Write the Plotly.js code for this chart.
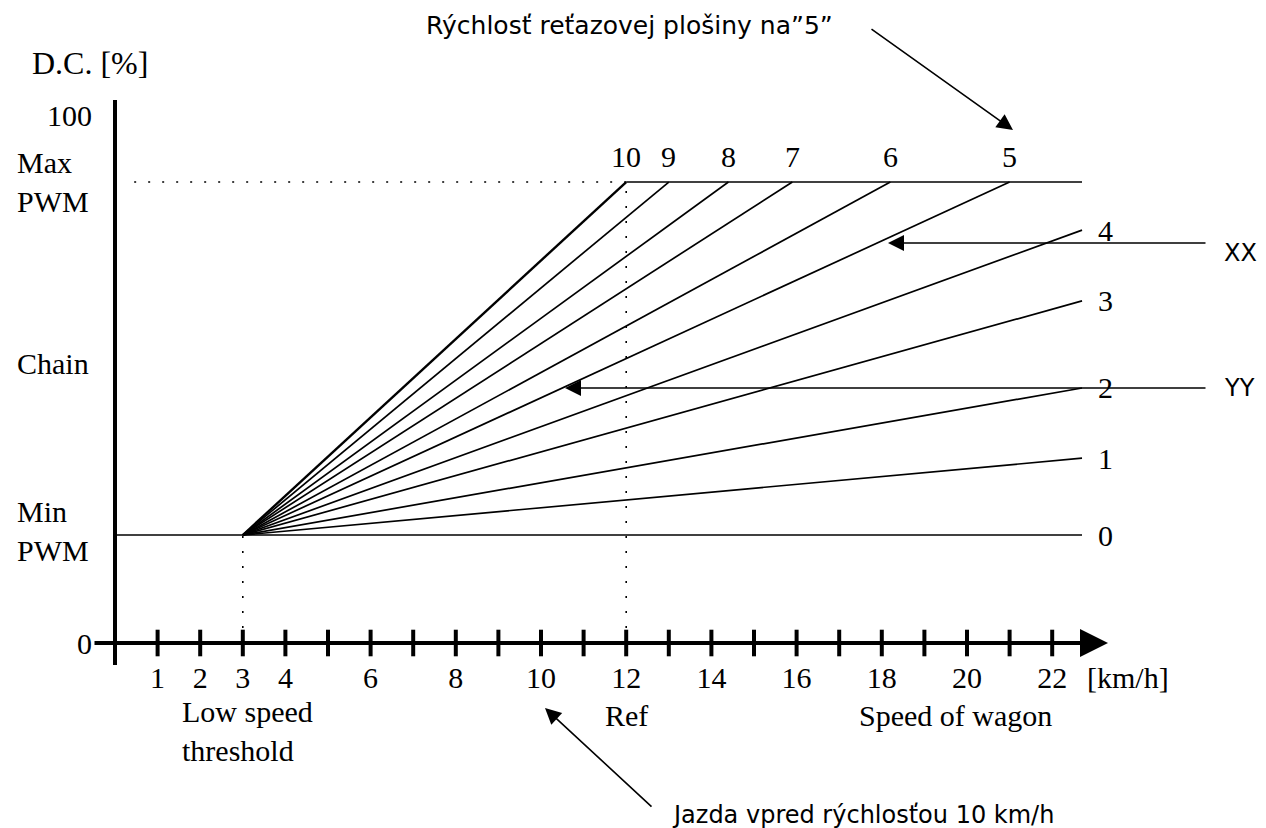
<!DOCTYPE html>
<html><head><meta charset="utf-8">
<script src="https://cdn.plot.ly/plotly-3.0.1.min.js"></script>
<style>html,body{margin:0;padding:0;background:#fff}</style>
</head><body>
<div id="chart" style="width:1266px;height:828px"></div>
<script>
// ---- data ----
const xTickVals = [1, 2, 3, 4, 6, 8, 10, 12, 14, 16, 18, 20, 22];
const xTickText = ['1', '2', '3', '4', '6', '8', '10', '12', '14', '16', '18', '20', '22'];
const axisTickMarks = [1,2,3,4,5,6,7,8,9,10,11,12,13,14,15,16,17,18,19,20,21,22];
const yTickVals = [0, 100];
const yTickText = ['0', '100'];
const lowSpeed = 3;      // km/h, low speed threshold
const refSpeed = 12;     // km/h, Ref
const minPWM = 20.45;    // %
const maxPWM = 87.3;     // %
const chainLevels = ['0', '1', '2', '3', '4', '5', '6', '7', '8', '9', '10'];
const lineEndX = [22.7, 22.7, 22.7, 22.7, 22.7, 21.0, 18.2, 15.9, 14.4, 13.0, 12.0];
const lineEndY = [20.45, 35.0, 48.3, 64.8, 78.2, 87.3, 87.3, 87.3, 87.3, 87.3, 87.3];
const speedAxisEnd = 22.7;

// ---- geometry of the frame ----
const W = 1266, H = 828;
const pxPerX = 42.6, x0px = 115;
const pxPerY = 5.28, y0px = 643;
const xr = [-x0px / pxPerX, (W - x0px) / pxPerX];
const yr = [-(H - y0px) / pxPerY, y0px / pxPerY];
const X = px => (px - x0px) / pxPerX;
const Y = py => (y0px - py) / pxPerY;

const SERIF = 'Liberation Serif, Times New Roman, serif';
const SANS = 'DejaVu Sans, Verdana, sans-serif';
const blk = '#000';

const traces = [];
// fan lines
chainLevels.forEach((lvl, i) => {
  const xs = i === 0 ? [0, lineEndX[i]] : [lowSpeed, lineEndX[i]];
  const ys = [minPWM, lineEndY[i]];
  traces.push({type: 'scatter', mode: 'lines', x: xs, y: ys, name: lvl,
    line: {color: blk, width: i === 10 ? 2.4 : 1.7}, hoverinfo: 'skip'});
});
// max PWM saturation line
traces.push({type: 'scatter', mode: 'lines', x: [refSpeed, speedAxisEnd], y: [maxPWM, maxPWM],
  line: {color: blk, width: 1.6}, hoverinfo: 'skip'});
// dotted guides
traces.push({type: 'scatter', mode: 'lines', x: [0.45, refSpeed], y: [maxPWM, maxPWM],
  line: {color: blk, width: 1.6, dash: '2px,12px'}, hoverinfo: 'skip'});
traces.push({type: 'scatter', mode: 'lines', x: [refSpeed, refSpeed], y: [0, maxPWM],
  line: {color: blk, width: 1.6, dash: '2px,13px'}, hoverinfo: 'skip'});
traces.push({type: 'scatter', mode: 'lines', x: [lowSpeed, lowSpeed], y: [0, minPWM],
  line: {color: blk, width: 1.6, dash: '2px,13px'}, hoverinfo: 'skip'});
// y axis line
traces.push({type: 'scatter', mode: 'lines', x: [0, 0], y: [Y(665), Y(100)],
  line: {color: blk, width: 4}, hoverinfo: 'skip'});
// tick marks crossing the x axis
traces.push({type: 'scatter', mode: 'markers', x: axisTickMarks, y: axisTickMarks.map(() => 0),
  marker: {symbol: 'line-ns-open', size: 19, color: blk, line: {color: blk, width: 4}}, hoverinfo: 'skip'});

const ann = [];
// x axis shaft + arrowhead
ann.push({x: X(1108), y: 0, ax: X(93), ay: 0, xref: 'x', yref: 'y', axref: 'x', ayref: 'y',
  text: '', showarrow: true, arrowhead: 2, arrowsize: 1.4, arrowwidth: 4, arrowcolor: blk, standoff: 0});
// line labels
chainLevels.forEach((lvl, i) => {
  if (i >= 5) {
    ann.push({x: lineEndX[i], y: Y(156), xref: 'x', yref: 'y', text: lvl, showarrow: false,
      xanchor: 'center', yanchor: 'middle', font: {family: SERIF, size: 30, color: blk}});
  } else {
    ann.push({x: X(1105), y: lineEndY[i], xref: 'x', yref: 'y', text: lvl, showarrow: false,
      xanchor: 'center', yanchor: 'middle', font: {family: SERIF, size: 30, color: blk}});
  }
});
const serifTxt = (text, x, y, xanchor, xref, size) => ({x, y, xref: xref || 'x', yref: 'y', text,
  showarrow: false, xanchor: xanchor || 'center', yanchor: 'middle', align: 'left',
  font: {family: SERIF, size: size || 30, color: blk}});
ann.push(serifTxt('D.C. [%]', 30 / W, Y(63), 'left', 'paper', 32));
ann.push(serifTxt('Max<br>PWM', 15 / W, maxPWM, 'left', 'paper'));
ann.push(serifTxt('Chain', 15 / W, Y(363), 'left', 'paper'));
ann.push(serifTxt('Min<br>PWM', 15 / W, Y(531), 'left', 'paper'));
ann.push(serifTxt('Low speed<br>threshold', X(180), Y(731), 'left'));
ann.push(serifTxt('Ref', refSpeed, Y(715), 'center'));
ann.push(serifTxt('Speed of wagon', X(955), Y(715), 'center'));
ann.push(serifTxt('[km/h]', X(1085), Y(677), 'left'));

const sansTxt = (text, x, y, xanchor) => ({x, y, xref: 'x', yref: 'y', text, showarrow: false,
  xanchor, yanchor: 'middle', font: {family: SANS, size: 24, color: blk}});
const arrow = (tipX, tipY, tailX, tailY) => ({x: tipX, y: tipY, ax: tailX, ay: tailY,
  xref: 'x', yref: 'y', axref: 'x', ayref: 'y', text: '', showarrow: true,
  arrowhead: 2, arrowsize: 2, arrowwidth: 1.6, arrowcolor: blk, standoff: 0});

ann.push(Object.assign(sansTxt('Rýchlosť reťazovej plošiny na”5”', X(629), Y(25), 'center'), {font: {family: SANS, size: 25, color: blk}}));
ann.push(arrow(X(1013), Y(130), X(870), Y(28)));
ann.push(sansTxt('XX', X(1222), Y(253), 'left'));
ann.push(arrow(X(888), Y(243), X(1207), Y(243)));
ann.push(sansTxt('YY', X(1222), Y(388), 'left'));
ann.push(arrow(X(565), Y(388), X(1207), Y(388)));
ann.push(sansTxt('Jazda vpred rýchlosťou 10 km/h', X(670), Y(815), 'left'));
ann.push(arrow(X(545), Y(708), X(653), Y(808)));

const layout = {
  width: W, height: H, margin: {l: 0, r: 0, t: 0, b: 0},
  paper_bgcolor: '#fff', plot_bgcolor: '#fff', showlegend: false, hovermode: false,
  xaxis: {range: xr, anchor: 'free', position: (H - y0px) / H, showgrid: false, zeroline: false,
    showline: false, tickmode: 'array', tickvals: xTickVals, ticktext: xTickText,
    ticks: 'outside', ticklen: 8, tickcolor: 'rgba(0,0,0,0)',
    tickfont: {family: SERIF, size: 30, color: blk}, fixedrange: true},
  yaxis: {range: yr, anchor: 'free', position: 116 / W, showgrid: false, zeroline: false,
    showline: false, tickmode: 'array', tickvals: yTickVals, ticktext: yTickText,
    ticks: 'outside', ticklen: 18, tickcolor: 'rgba(0,0,0,0)',
    tickfont: {family: SERIF, size: 30, color: blk}, fixedrange: true},
  annotations: ann
};
Plotly.newPlot('chart', traces, layout, {staticPlot: true, displayModeBar: false});
</script>
</body></html>
